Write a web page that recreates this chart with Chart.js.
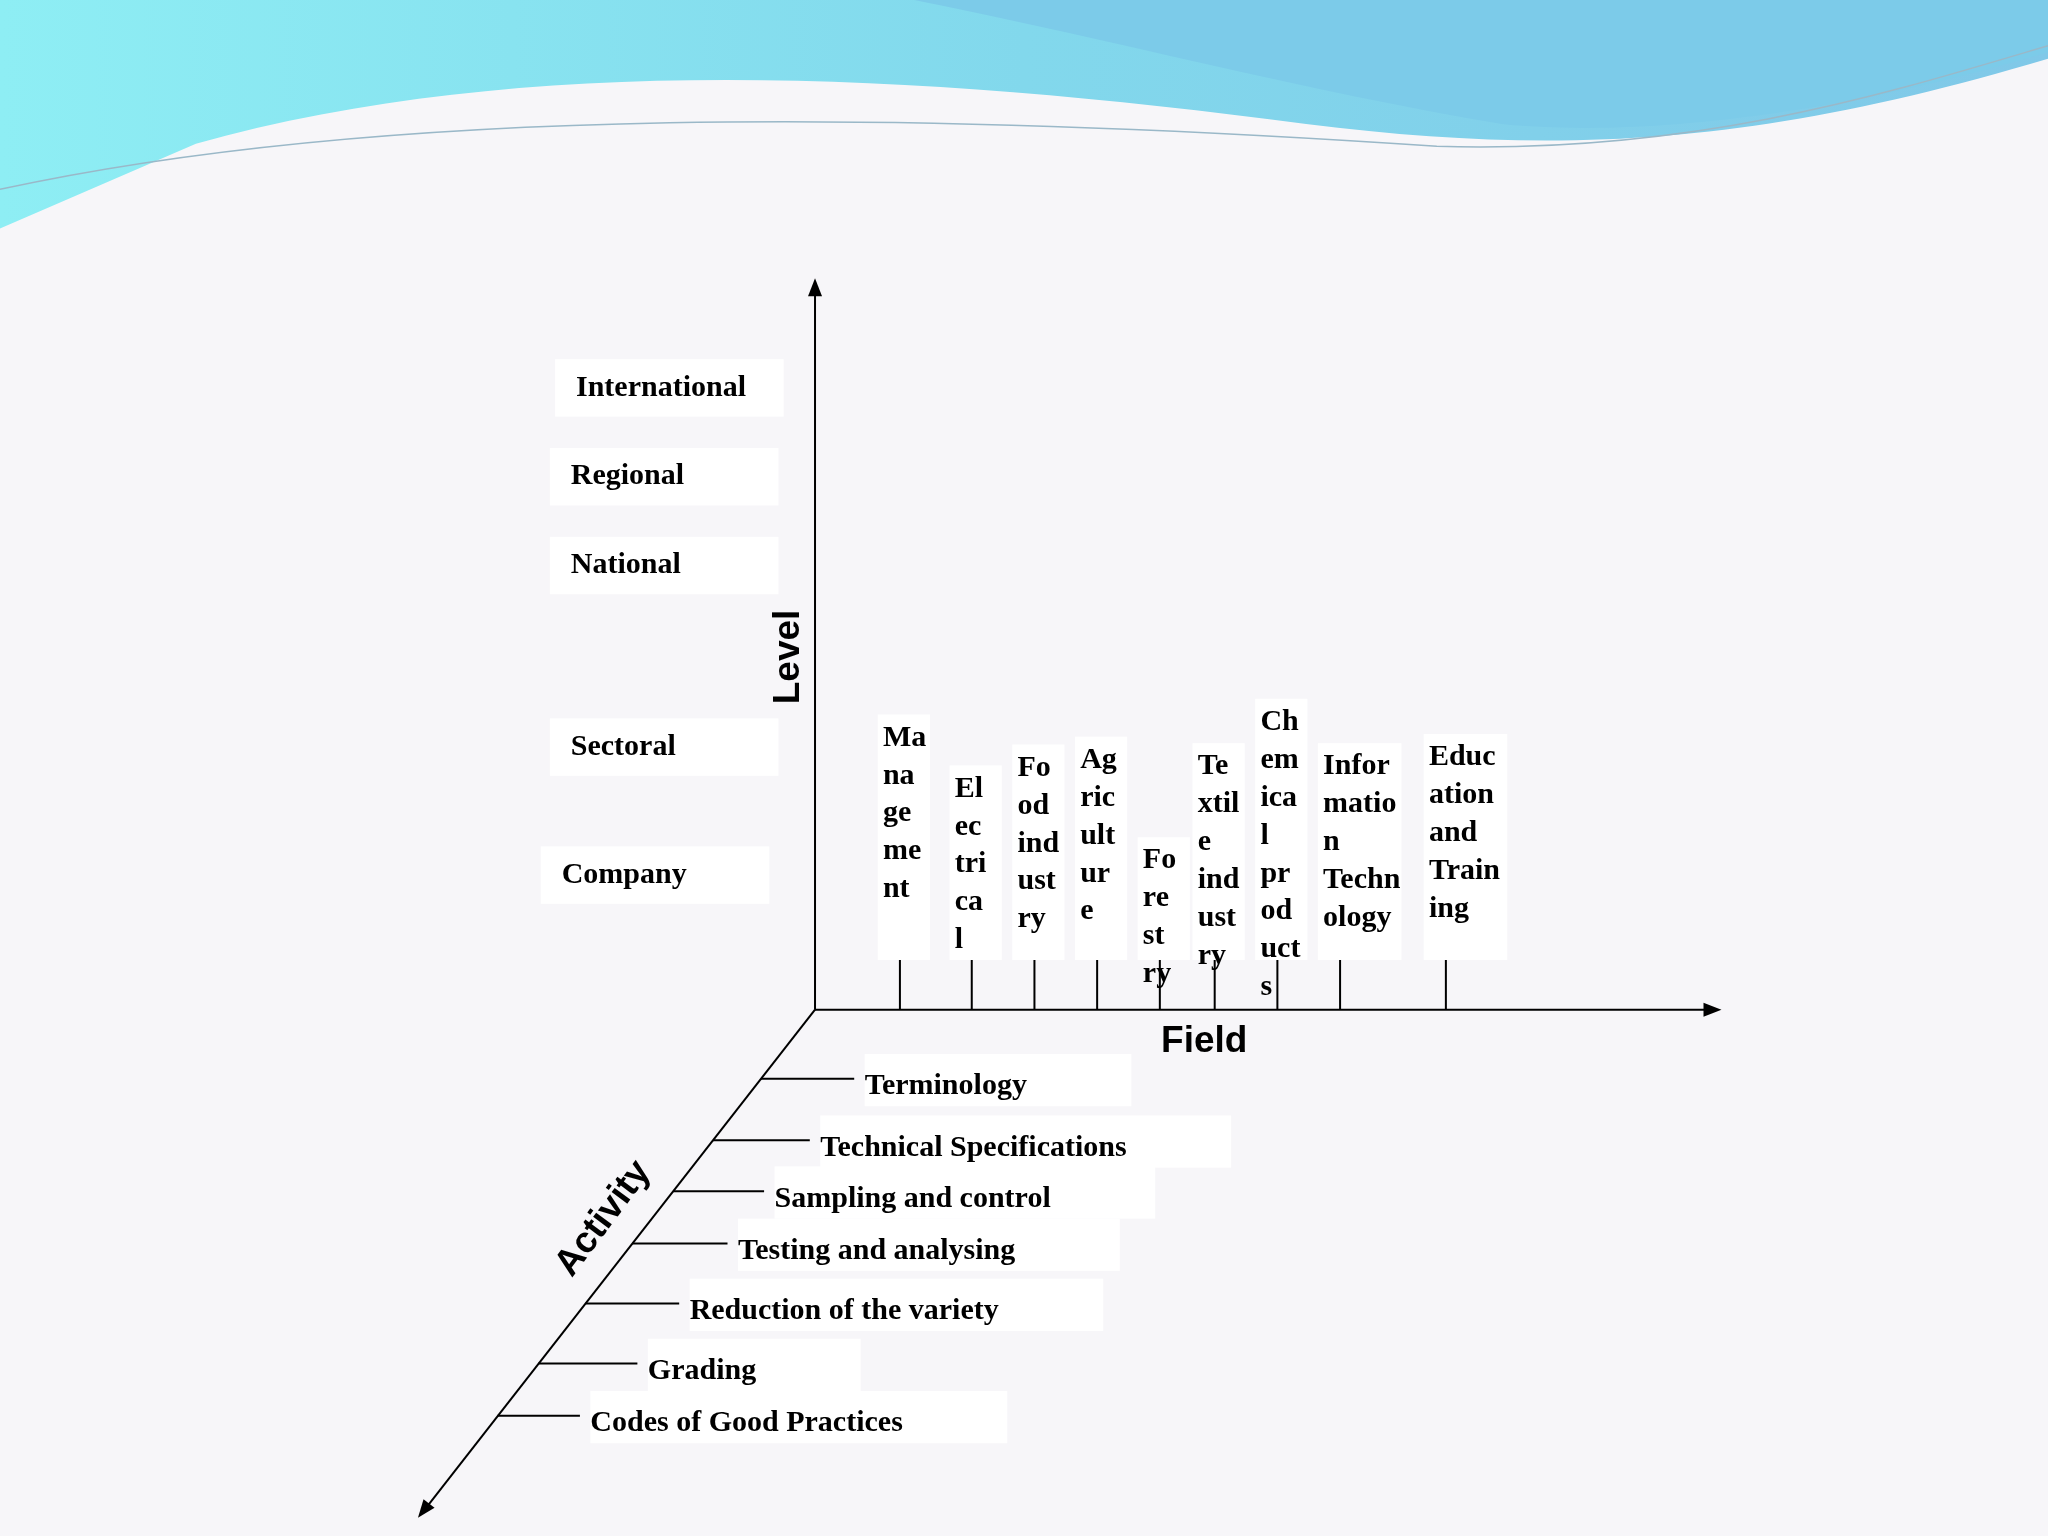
<!DOCTYPE html>
<html>
<head>
<meta charset="utf-8">
<script src="https://cdn.jsdelivr.net/npm/chart.js@4/dist/chart.umd.min.js"></script>
<style>
  html, body { margin: 0; padding: 0; background: #f7f6f9; }
  canvas { display: block; }
</style>
</head>
<body>
<canvas id="c" width="2048" height="1536"></canvas>
<script>
// 坐标按参考图 1568x1176 的空间给出，由图表的比例尺换算
const levelNames = ['International', 'Regional', 'National', 'Sectoral', 'Company'];
const levelPos = [297, 365, 433, 572, 670];
const levelTextX = [441, 437, 437, 437, 430];

const fieldNames = [
    ['Ma', 'na', 'ge', 'me', 'nt'],
    ['El', 'ec', 'tri', 'ca', 'l'],
    ['Fo', 'od', 'ind', 'ust', 'ry'],
    ['Ag', 'ric', 'ult', 'ur', 'e'],
    ['Fo', 're', 'st', 'ry'],
    ['Te', 'xtil', 'e', 'ind', 'ust', 'ry'],
    ['Ch', 'em', 'ica', 'l', 'pr', 'od', 'uct', 's'],
    ['Infor', 'matio', 'n', 'Techn', 'ology'],
    ['Educ', 'ation', 'and', 'Train', 'ing']
];
const fieldPos = [689, 744, 792, 840, 888, 930, 978, 1026, 1107];
const fieldTextX = [676, 731, 779, 827, 875, 917, 965, 1013, 1094];
const fieldTextTop = [565, 604, 588, 582, 659, 587, 553, 587, 580];

const activityNames = ['Terminology', 'Technical Specifications', 'Sampling and control',
    'Testing and analysing', 'Reduction of the variety', 'Grading', 'Codes of Good Practices'];
const activityPos = [826, 873, 912, 952, 998, 1044, 1084];
const activityTextX = [662, 628, 593, 565, 528, 496, 452];

const origin = { x: 624, y: 773 };
const levelEnd = 213, fieldEnd = 1318, activityEnd = { x: 320, y: 1162 };
const diagX = y => origin.x + (y - origin.y) * (activityEnd.x - origin.x) / (activityEnd.y - origin.y);

const S = 2048 / 1568;
const fontSize = Math.round(23.3 * S);

const lineSet = pts => ({ type: 'line', data: pts, borderColor: '#000', borderWidth: 2, pointRadius: 0, showLine: true, fill: false });

const datasets = [
    lineSet([{ x: origin.x, y: origin.y }, { x: origin.x, y: levelEnd + 8 }]),
    lineSet([{ x: origin.x, y: origin.y }, { x: fieldEnd - 8, y: origin.y }]),
    lineSet([{ x: origin.x, y: origin.y }, { x: activityEnd.x + 5, y: activityEnd.y - 6 }])
];
fieldPos.forEach(x => datasets.push(lineSet([{ x: x, y: 735 }, { x: x, y: origin.y }])));
activityPos.forEach((y, i) => datasets.push(lineSet([{ x: diagX(y), y: y }, { x: activityTextX[i] - 8, y: y }])));

// 背景、文字和箭头
const decor = {
    id: 'decor',
    beforeDraw(chart) {
        const ctx = chart.ctx;
        const px = v => chart.scales.x.getPixelForValue(v);
        const py = v => chart.scales.y.getPixelForValue(v);
        ctx.save();
        ctx.fillStyle = '#f7f6f9';
        ctx.fillRect(0, 0, chart.width, chart.height);
        // 顶部波浪
        let g = ctx.createLinearGradient(0, 0, px(1568), 0);
        g.addColorStop(0, '#8eeef4');
        g.addColorStop(0.5, '#82d8ec');
        g.addColorStop(1, '#80c8e8');
        ctx.fillStyle = g;
        ctx.beginPath();
        ctx.moveTo(0, 0);
        ctx.lineTo(px(1568), 0);
        ctx.lineTo(px(1568), py(45));
        ctx.bezierCurveTo(px(1350), py(110), px(1200), py(120), px(1000), py(95));
        ctx.bezierCurveTo(px(700), py(55), px(400), py(40), px(150), py(110));
        ctx.lineTo(0, py(175));
        ctx.closePath();
        ctx.fill();
        ctx.fillStyle = '#7ccbe9';
        ctx.beginPath();
        ctx.moveTo(px(700), 0);
        ctx.lineTo(px(1568), 0);
        ctx.lineTo(px(1568), py(40));
        ctx.bezierCurveTo(px(1400), py(90), px(1250), py(105), px(1150), py(95));
        ctx.bezierCurveTo(px(1000), py(70), px(850), py(30), px(700), 0);
        ctx.fill();
        ctx.strokeStyle = '#9ab8c8';
        ctx.lineWidth = 1.5;
        ctx.beginPath();
        ctx.moveTo(0, py(145));
        ctx.bezierCurveTo(px(300), py(80), px(700), py(85), px(1100), py(112));
        ctx.bezierCurveTo(px(1300), py(118), px(1450), py(70), px(1568), py(35));
        ctx.stroke();

        // 标签底色
        ctx.fillStyle = '#ffffff';
        levelPos.forEach((y, i) => ctx.fillRect(px(levelTextX[i] - 16), py(y - 22), px(175) - px(0), py(44) - py(0)));
        ctx.font = `bold ${fontSize}px "Liberation Serif"`;
        activityPos.forEach((y, i) => {
            const w = ctx.measureText(activityNames[i]).width;
            ctx.fillRect(px(activityTextX[i]), py(y - 19), w + 80 * S, py(40) - py(0));
        });
        fieldNames.forEach((lines, i) => {
            const top = fieldTextTop[i] - 18;
            ctx.fillRect(px(fieldTextX[i] - 4), py(top), px(fieldTextX[i] + (lines[0].length > 3 ? 64 : 40)) - px(fieldTextX[i]), py(735) - py(top));
        });
        ctx.restore();
    },
    afterDraw(chart) {
        const ctx = chart.ctx;
        const px = v => chart.scales.x.getPixelForValue(v);
        const py = v => chart.scales.y.getPixelForValue(v);
        ctx.save();
        ctx.fillStyle = '#000';
        // 箭头
        const arrow = (x, y, ang) => {
            ctx.save();
            ctx.translate(px(x), py(y));
            ctx.rotate(ang);
            ctx.beginPath();
            ctx.moveTo(0, 0);
            ctx.lineTo(-18, -7);
            ctx.lineTo(-18, 7);
            ctx.closePath();
            ctx.fill();
            ctx.restore();
        };
        arrow(origin.x, levelEnd, -Math.PI / 2);
        arrow(fieldEnd, origin.y, 0);
        arrow(activityEnd.x, activityEnd.y, Math.atan2(py(activityEnd.y) - py(origin.y), px(activityEnd.x) - px(origin.x)));

        ctx.font = `bold ${fontSize}px "Liberation Serif"`;
        ctx.textBaseline = 'middle';
        ctx.textAlign = 'left';
        levelNames.forEach((t, i) => ctx.fillText(t, px(levelTextX[i]), py(levelPos[i])));
        activityNames.forEach((t, i) => ctx.fillText(t, px(activityTextX[i]), py(activityPos[i] + 6)));
        fieldNames.forEach((lines, i) => {
            lines.forEach((t, j) => ctx.fillText(t, px(fieldTextX[i]), py(fieldTextTop[i] + j * 29)));
        });

        // 轴标题
        ctx.font = `bold ${Math.round(28 * S)}px "Liberation Sans"`;
        ctx.textAlign = 'center';
        ctx.fillText('Field', px(922), py(798));
        ctx.save();
        ctx.translate(px(604), py(503));
        ctx.rotate(-Math.PI / 2);
        ctx.fillText('Level', 0, 0);
        ctx.restore();
        ctx.save();
        ctx.translate(px(462), py(933));
        ctx.rotate(-0.93);
        ctx.fillText('Activity', 0, 0);
        ctx.restore();
        ctx.restore();
    }
};

new Chart(document.getElementById('c'), {
    type: 'scatter',
    data: { datasets: datasets },
    options: {
        responsive: false,
        devicePixelRatio: 1,
        animation: false,
        layout: { padding: 0 },
        plugins: { legend: { display: false }, tooltip: { enabled: false } },
        scales: {
            x: { type: 'linear', min: 0, max: 1568, display: false },
            y: { type: 'linear', min: 0, max: 1176, reverse: true, display: false }
        }
    },
    plugins: [decor]
});
</script>
</body>
</html>
